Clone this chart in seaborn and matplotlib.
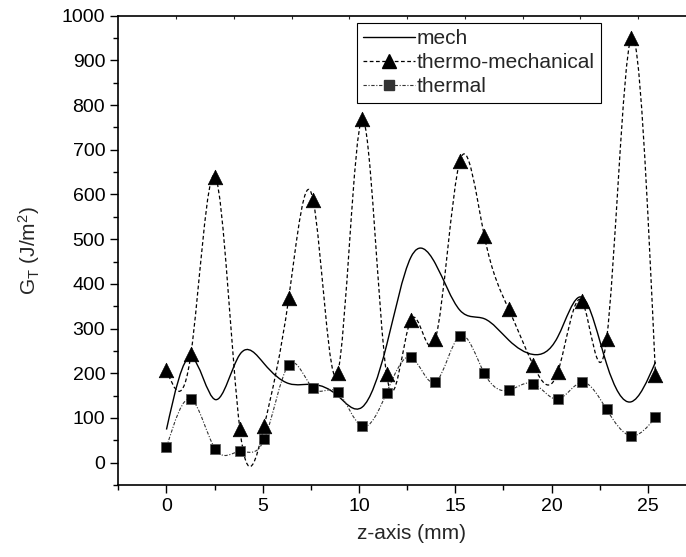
import numpy as np
import pandas as pd
import seaborn as sns
import matplotlib.pyplot as plt
from matplotlib.path import Path
from matplotlib.patches import PathPatch
from matplotlib.lines import Line2D

# data (x positions every 1.27 mm)
z_mm = [0, 1.27, 2.54, 3.81, 5.08, 6.35, 7.62, 8.89, 10.16, 11.43, 12.7,
        13.97, 15.24, 16.51, 17.78, 19.05, 20.32, 21.59, 22.86, 24.13, 25.4]
mech = [74, 236, 141, 242, 221, 177, 175, 150, 124, 262, 460,
        445, 341, 322, 274, 242, 281, 370, 221, 136, 225]
thermo_mech = [208, 243, 640, 76, 83, 368, 587, 200, 768, 198, 320,
               277, 675, 507, 343, 218, 202, 361, 276, 950, 196]
thermal = [34, 142, 30, 25, 52, 219, 166, 158, 81, 156, 236,
           180, 284, 200, 162, 177, 142, 180, 119, 60, 101]

sns.set_style("ticks")
plt.rcParams["font.family"] = ["Liberation Sans", "DejaVu Sans"]
plt.rcParams["mathtext.fontset"] = "custom"
plt.rcParams["mathtext.rm"] = "Liberation Sans"
plt.rcParams["mathtext.it"] = "Liberation Sans:italic"


def spline_path(x, y):
    # natural cubic spline through the points, drawn as bezier segments
    x = np.asarray(x, float)
    y = np.asarray(y, float)
    n = len(x)
    h = np.diff(x)
    A = np.zeros((n, n))
    b = np.zeros(n)
    A[0, 0] = A[-1, -1] = 1
    for i in range(1, n - 1):
        A[i, i - 1] = h[i - 1]
        A[i, i] = 2 * (h[i - 1] + h[i])
        A[i, i + 1] = h[i]
        b[i] = 6 * ((y[i + 1] - y[i]) / h[i] - (y[i] - y[i - 1]) / h[i - 1])
    M = np.linalg.solve(A, b)
    m = np.zeros(n)
    for i in range(n - 1):
        m[i] = (y[i + 1] - y[i]) / h[i] - h[i] * (2 * M[i] + M[i + 1]) / 6
    m[-1] = (y[-1] - y[-2]) / h[-1] + h[-1] * (M[-2] + 2 * M[-1]) / 6
    verts = [(x[0], y[0])]
    codes = [Path.MOVETO]
    for i in range(n - 1):
        verts += [(x[i] + h[i] / 3, y[i] + m[i] * h[i] / 3),
                  (x[i + 1] - h[i] / 3, y[i + 1] - m[i + 1] * h[i] / 3),
                  (x[i + 1], y[i + 1])]
        codes += [Path.CURVE4] * 3
    return Path(verts, codes)


df = pd.DataFrame({"z": z_mm, "mech": mech,
                   "thermo": thermo_mech, "thermal": thermal})

fig = plt.figure(figsize=(6.86, 5.57), dpi=100)
ax = fig.add_axes([0.1725, 0.1293, 0.856, 0.8425])

ax.add_patch(PathPatch(spline_path(z_mm, mech), fill=False,
                       edgecolor="black", lw=1.0))
ax.add_patch(PathPatch(spline_path(z_mm, thermo_mech), fill=False,
                       edgecolor="black", lw=0.9, linestyle=(0, (3, 2))))
ax.add_patch(PathPatch(spline_path(z_mm, thermal), fill=False,
                       edgecolor="#333333", lw=0.8,
                       linestyle=(0, (3, 1.5, 1, 1.5))))

sns.scatterplot(data=df, x="z", y="thermo", marker="^", s=110,
                color="black", edgecolor="black", linewidth=0.5, ax=ax, zorder=3)
sns.scatterplot(data=df, x="z", y="thermal", marker="s", s=45,
                color="black", edgecolor="#555555", linewidth=0.5, ax=ax, zorder=3)

ax.set_xlim(-2.5, 28)
ax.set_ylim(-50, 1000)
ax.set_xticks([0, 5, 10, 15, 20, 25])
ax.set_xticks(np.arange(-2.5, 28, 5), minor=True)
ax.set_yticks(np.arange(0, 1001, 100))
ax.set_yticks(np.arange(-50, 1000, 100), minor=True)
ax.tick_params(which="major", direction="out", length=6, width=1,
               labelsize=14, color="black", labelcolor="black")
ax.tick_params(which="minor", direction="out", length=3.5, width=1,
               color="black")
for side in ["left", "bottom", "top"]:
    ax.spines[side].set_color("black")
    ax.spines[side].set_linewidth(1.2)
ax.spines["right"].set_visible(False)

top = ax.secondary_xaxis("top")
top.set_xticks(np.arange(0.5, 26, 3))
top.tick_params(direction="in", length=2, width=0.8, labeltop=False)
top.spines["top"].set_visible(False)

ax.set_xlabel("z-axis (mm)", fontsize=15, labelpad=6)
ax.set_ylabel(r"G$_\mathrm{T}$ (J/m$^2$)", fontsize=15, labelpad=14)

handles = [
    Line2D([], [], color="black", lw=1.0),
    Line2D([], [], color="black", lw=0.9, linestyle=(0, (3, 2)),
           marker="^", markersize=10),
    Line2D([], [], color="#333333", lw=0.8, linestyle=(0, (3, 1.5, 1, 1.5)),
           marker="s", markersize=6.5),
]
leg = ax.legend(handles, ["mech", "thermo-mechanical", "thermal"],
                loc="upper left", bbox_to_anchor=(0.4056, 0.985),
                borderaxespad=0, borderpad=0.3, handletextpad=0.1,
                handlelength=2.5, labelspacing=0.25, fontsize=15,
                frameon=True, fancybox=False, framealpha=1)
leg.get_frame().set_edgecolor("black")
leg.get_frame().set_linewidth(0.8)

fig.savefig("out.png", dpi=100)
